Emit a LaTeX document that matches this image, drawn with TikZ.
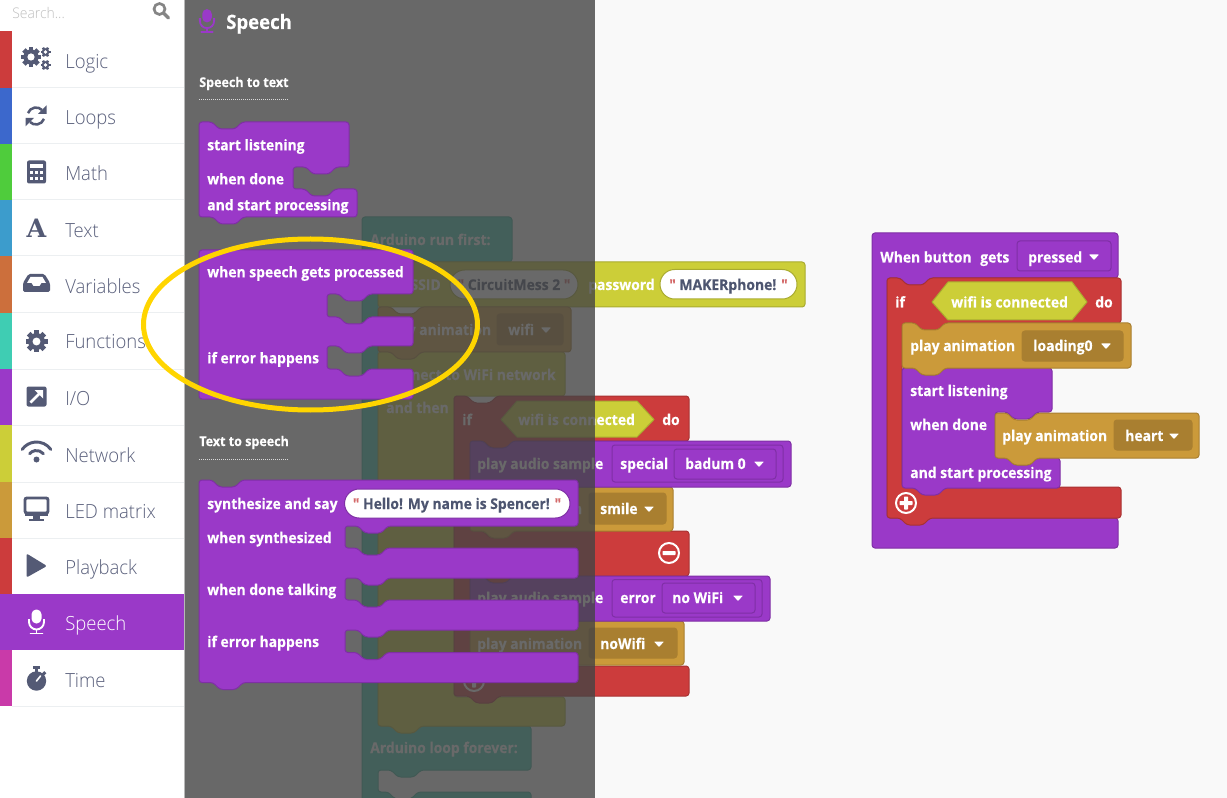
\documentclass[tikz,border=0pt]{standalone}
\usepackage{fontspec}
\setmainfont{Open Sans}
\newfontfamily\lightf[FakeStretch=0.95]{Open Sans Light}
\newfontfamily\serf{DejaVu Serif}
\newfontfamily\bkf[FakeStretch=0.94,FakeBold=0.25]{Open Sans Bold}
\newcommand\bk{\bkf\fontsize{11.1}{13}\selectfont}
\newcommand\sbf{\lightf\fontsize{14.6}{17}\selectfont}
\definecolor{Red}{HTML}{CC3C3C}\definecolor{RedD}{HTML}{A83232}
\definecolor{Blu}{HTML}{3C68CC}
\definecolor{Grn}{HTML}{4FCC3C}
\definecolor{Cya}{HTML}{3C9CCC}
\definecolor{Ora}{HTML}{CC6F3C}
\definecolor{Tea}{HTML}{3FCDB3}\definecolor{TeaD}{HTML}{35AD97}
\definecolor{Pur}{HTML}{9A39C8}\definecolor{PurD}{HTML}{7F2FA5}
\definecolor{Yel}{HTML}{CCCE38}\definecolor{YelD}{HTML}{A9AB2F}
\definecolor{Gol}{HTML}{CB9A3A}\definecolor{GolD}{HTML}{A97F30}\definecolor{GolF}{HTML}{A97F30}
\definecolor{Mag}{HTML}{C93AA9}
\definecolor{Ico}{HTML}{545A75}
\definecolor{Lab}{HTML}{5A607C}
\definecolor{Sep}{HTML}{ECEFF1}
\definecolor{Qt}{HTML}{D46A6A}
\definecolor{Str}{HTML}{4D5570}
\definecolor{Ell}{HTML}{FFD500}
\tikzset{
 blk/.style={line width=.75pt,rounded corners=2.2pt,line join=round},
 tl/.style={blk,fill=Tea,draw=TeaD},
 yl/.style={blk,fill=Yel,draw=YelD},
 gd/.style={blk,fill=Gol,draw=GolD},
 pu/.style={blk,fill=Pur,draw=PurD},
 rd/.style={blk,fill=Red,draw=RedD},
 bt/.style={anchor=base west,inner sep=0pt,text=white,font=\bk},
 sl/.style={anchor=base west,inner sep=0pt,text=Lab,font=\sbf},
 ctr/.style={anchor=base,inner sep=0pt,text=Str,font=\bk},
 hdr/.style={anchor=base west,inner sep=0pt,text=white,font=\bkf\fontsize{10}{11}\selectfont},
 dots/.style={draw=white!85!black,line width=.75pt,dash pattern=on .75pt off .75pt},
 pill/.style={line width=.75pt,fill=white,rounded corners=11pt},
 dd/.style={line width=.75pt,rounded corners=2.2pt},
 sep/.style={draw=Sep,line width=.75pt},
}
\def\Tn{-- ++(7,7) -- ++(16,0) -- ++(7,-7)}
\def\Tab{-- ++(-7,7) -- ++(-16,0) -- ++(-7,-7)}
\newcommand\Car{}
\renewcommand\Car[2]{\fill[white,rounded corners=.5pt] (#1-5,#2-2.5) -- ++(10,0) -- ++(-5,5.5) -- cycle;}
\newcommand\Gear[5]{% x y r teeth-step hole-colour
 \begin{scope}[shift={(#1,#2)}]
 \fill[Ico] (0,0) circle (#3*0.76);
 \foreach \a in {0,#4,...,359}{\draw[Ico,line width=#3*0.36pt] (\a:#3*0.6) -- (\a:#3);}
 \fill[#5] (0,0) circle (#3*0.36);
 \end{scope}}
\newcommand\Mic[4]{% x y scale colour
 \begin{scope}[shift={(#1,#2)},y=.75pt,scale=#3]
 \fill[#4,rounded corners=3.6pt] (-5,-1.5) rectangle (5,12.5);
 \draw[#4,line width=#3*1.4pt] (-7.5,3) -- (-7.5,0) arc (180:360:7.5) -- (7.5,3);
 \draw[#4,line width=#3*1.4pt] (0,-7.5) -- (0,-11);
 \draw[#4,line width=#3*1.4pt,line cap=round] (-6,-11.5) -- (6,-11.5);
 \end{scope}}
\newcommand\PlusMinus[3]{% x y plus?
 \draw[white,line width=1.5pt] (#1,#2) circle (10);
 \fill[white,rounded corners=.5pt] (#1-6.5,#2-2) rectangle (#1+6.5,#2+2);
 \ifnum#3=1 \fill[white,rounded corners=.5pt] (#1-2,#2-6.5) rectangle (#1+2,#2+6.5);\fi}
\begin{document}
\begin{tikzpicture}[x=.75pt,y=-.75pt]
\useasboundingbox (0,0) rectangle (1227,798);
\clip (0,0) rectangle (1227,798);
\fill[white] (0,0) rectangle (1227,798);
\fill[black!2.4] (185,0) rectangle (1227,798);

%% --- workspace, left stack
\draw[tl] (362,217) -- (512,217) -- (512,262) -- (378,262) -- (378,726) -- (531,726) -- (531,770) -- (421,770) \Tab -- (378,770) -- (378,792) -- (388,792) \Tn -- (531,792) -- (531,830) -- (362,830) -- cycle;
\node[bt] (arun) at (370,245) {Arduino run first:};
\node[bt] (aloop) at (370,753) {Arduino loop forever:};

\draw[yl] (378,352) -- (391,352) \Tn -- (565,352) -- (565,396) -- (454,396) -- (454,697) -- (565,697) -- (565,726) -- (421,726) \Tab -- (378,726) -- cycle;
\node[bt] (conn) at (386,380) {connect to WiFi network};
\node[bt] (andthen) at (386,413) {and then};

\draw[yl] (378,262) -- (805,262) -- (805,307) -- (378,307) -- cycle;
\node[bt,anchor=base east] (ssid) at (441,290) {SSID};
\draw[pill,draw=YelD] (450,270) rectangle (578,299);
\node[ctr] (cm) at (514,290) {{\color{Qt}"} CircuitMess 2 {\color{Qt}"}};
\node[bt] (pwd) at (588,290) {password};
\draw[pill,draw=YelD] (660,269.5) rectangle (797,299);
\node[ctr] (mk) at (728.5,290) {{\color{Qt}"} MAKERphone! {\color{Qt}"}};

\draw[gd] (378,307) -- (391,307) \Tn -- (571,307) -- (571,352) -- (421,352) \Tab -- (378,352) -- cycle;
\node[bt] (pa0) at (386,335) {play animation};
\draw[dd,fill=GolF,draw=GolD] (497,314) rectangle (563,345);
\node[bt] (wifid) at (508,335) {wifi};
\Car{546}{330}

\draw[rd] (454,396) -- (467,396) \Tn -- (689,396) -- (689,441) -- (514,441) \Tab -- (470,441) -- (470,531) -- (483,531) \Tn -- (689,531) -- (689,576) -- (514,576) \Tab -- (470,576) -- (470,666) -- (483,666) \Tn -- (689,666) -- (689,696) -- (499,696) \Tab -- (454,696) -- cycle;
\node[bt] (if0) at (462,425) {if};
\draw[line width=.75pt,fill=Yel,draw=YelD,line join=round] (501,419.5) -- (517,401) -- (637,401) -- (654,419.5) -- (637,437) -- (517,437) -- cycle;
\node[bt] (wc0) at (518,425) {wifi is connected};
\node[bt] (do0) at (662,425) {do};
\PlusMinus{669}{553}{0}
\PlusMinus{474}{681}{1}

\draw[gd] (470,621) -- (483,621) \Tn -- (684,621) -- (684,665) -- (514,665) \Tab -- (470,665) -- cycle;
\node[bt] (pa3) at (477,649) {play animation};
\draw[dd,fill=GolF,draw=GolD] (589,628) rectangle (677,658);
\node[bt] (nowifi) at (600,649) {noWifi};
\Car{659}{644}

\draw[pu] (470,576) -- (483,576) \Tn -- (770,576) -- (770,621) -- (514,621) \Tab -- (470,621) -- cycle;
\node[bt] (au2) at (477,603) {play audio sample};
\draw[dd,draw=PurD] (612,579.5) rectangle (762,617);
\node[bt] (err) at (620,603) {error};
\draw[dd,draw=PurD] (662,583) rectangle (755,613);
\node[bt] (nw) at (672,603) {no WiFi};
\Car{738}{598}

\draw[gd] (470,487) -- (483,487) \Tn -- (673,487) -- (673,531) -- (514,531) \Tab -- (470,531) -- cycle;
\node[bt] (pa2) at (477,514) {play animation};
\draw[dd,fill=GolF,draw=GolD] (589,493) rectangle (666,524);
\node[bt] (smile) at (600,514) {smile};
\Car{649}{509}

\draw[pu] (470,441) -- (483,441) \Tn -- (791,441) -- (791,487) -- (514,487) \Tab -- (470,487) -- cycle;
\node[bt] (au1) at (477,469) {play audio sample};
\draw[dd,draw=PurD] (612,445) rectangle (783,482);
\node[bt] (spec) at (620,469) {special};
\draw[dd,draw=PurD] (674,449) rectangle (776,479);
\node[bt] (bad) at (685,469) {badum 0};
\Car{759}{464}

%% --- workspace, right stack
\draw[pu] (872,233) -- (1118,233) -- (1118,278) -- (930,278) \Tab -- (887,278) -- (887,518) -- (1118,518) -- (1118,548) -- (872,548) -- cycle;
\node[bt] (wb) at (880,262.5) {When button};
\node[bt] (gets) at (980,262.5) {gets};
\draw[dd,draw=PurD] (1017,241) rectangle (1111,271);
\node[bt] (pressed) at (1028,262.5) {pressed};
\Car{1094}{257}

\draw[rd] (887,278) -- (900,278) \Tn -- (1121,278) -- (1121,323) -- (945,323) \Tab -- (902,323) -- (902,487) -- (915,487) \Tn -- (1121,487) -- (1121,518) -- (930,518) \Tab -- (887,518) -- cycle;
\node[bt] (if1) at (895,307.5) {if};
\draw[line width=.75pt,fill=Yel,draw=YelD,line join=round] (932,302) -- (948,282) -- (1072,282) -- (1087,302) -- (1072,320) -- (948,320) -- cycle;
\node[bt] (wc1) at (951,307.5) {wifi is connected};
\node[bt] (do1) at (1095,307.5) {do};
\PlusMinus{906}{503}{1}

\draw[pu] (902,368) -- (915,368) \Tn -- (1052,368) -- (1052,412) -- (1037,412) \Tab -- (995,412) -- (995,458) -- (1007,458) \Tn -- (1060,458) -- (1060,488) -- (945,488) \Tab -- (902,488) -- cycle;
\node[bt] (sl1) at (910,396) {start listening};
\node[bt] (wd1) at (910,430) {when done};
\node[bt] (sp1) at (910,478) {and start processing};

\draw[gd] (995,413) -- (1007,413) \Tn -- (1199,413) -- (1199,458) -- (1037,458) \Tab -- (995,458) -- cycle;
\node[bt] (pah) at (1002,441) {play animation};
\draw[dd,fill=GolF,draw=GolD] (1114,420) rectangle (1192,450);
\node[bt] (heart) at (1125,441) {heart};
\Car{1174}{436}

\draw[gd] (902,323) -- (915,323) \Tn -- (1131,323) -- (1131,368) -- (945,368) \Tab -- (902,368) -- cycle;
\node[bt] (pal) at (910,351) {play animation};
\draw[dd,fill=GolF,draw=GolD] (1022,331) rectangle (1123,361);
\node[bt] (load) at (1033,351) {loading0};
\Car{1106}{346}

%% --- flyout overlay
\fill[black!73.3,opacity=.8] (185,0) rectangle (595,798);

\Mic{207}{21}{.95}{Pur}
\node[hdr,font=\bkf\fontsize{14.8}{17}\selectfont] (hd) at (226,29) {Speech};
\node[hdr] (s2t) at (199,87) {Speech to text};
\draw[dots] (199,100) -- (288,100);
\node[hdr] (t2s) at (199,446) {Text to speech};
\draw[dots] (199,459) -- (288,459);

\draw[pu] (199,122) -- (212,122) \Tn -- (349,122) -- (349,167) -- (336,167) \Tab -- (293,167) -- (293,189) -- (305,189) \Tn -- (357,189) -- (357,217) -- (243,217) \Tab -- (199,217) -- cycle;
\node[bt] (sl0) at (207,150.3) {start listening};
\node[bt] (wd0) at (207,184.3) {when done};
\node[bt] (sp0) at (207,210.3) {and start processing};

\draw[pu] (199,250) -- (413,250) -- (413,294) -- (369,294) \Tab -- (327,294) -- (327,317) -- (339,317) \Tn -- (413,317) -- (413,346) -- (369,346) \Tab -- (327,346) -- (327,369) -- (339,369) \Tn -- (413,369) -- (413,399) -- (199,399) -- cycle;
\node[bt] (wsp) at (207,277.3) {when speech gets processed};
\node[bt] (ie0) at (207,363.3) {if error happens};

\draw[pu] (199,480) -- (212,480) \Tn -- (578,480) -- (578,526) -- (388,526) \Tab -- (345,526) -- (345,548) -- (357,548) \Tn -- (578,548) -- (578,578) -- (388,578) \Tab -- (345,578) -- (345,600) -- (357,600) \Tn -- (578,600) -- (578,630) -- (388,630) \Tab -- (345,630) -- (345,652.5) -- (357,652.5) \Tn -- (578,652.5) -- (578,682.5) -- (243,682.5) \Tab -- (199,682.5) -- cycle;
\node[bt] (syn) at (207,509) {synthesize and say};
\draw[pill,draw=PurD] (344.5,489) rectangle (570,518);
\node[ctr] (hello) at (457,509) {{\color{Qt}"} Hello! My name is Spencer! {\color{Qt}"}};
\node[bt] (ws) at (207,543) {when synthesized};
\node[bt] (wdt) at (207,595) {when done talking};
\node[bt] (ie1) at (207,647) {if error happens};

%% --- sidebar
\fill[white] (0,0) rectangle (184,798);
\draw[black!28,line width=.75pt] (184.5,0) -- (184.5,798);
\node[anchor=base west,inner sep=0pt,text=black!25,font=\lightf\fontsize{11}{12}\selectfont] (srch) at (12,18.5) {Search...};
\draw[black!48,line width=2pt] (159.5,9) circle (5.5);
\draw[black!48,line width=2.4pt,line cap=round] (163.5,13) -- (168.5,18);

\foreach \ya/\yb/\c in {31/88/Red,88/144/Blu,144/200/Grn,200/256/Cya,256/313/Ora,313/369/Tea,369/425/Pur,425/482/Yel,482/538/Gol,538/594/Red,650/706/Mag}
 {\fill[\c] (0,\ya) rectangle (12,\yb);
  \draw[sep] (12,\yb) -- (184,\yb);}
\fill[Pur] (0,594) rectangle (184,650);

\node[sl] (n1) at (65,69) {Logic};
\node[sl] (n2) at (65,125) {Loops};
\node[sl] (n3) at (65,181) {Math};
\node[sl] (n4) at (65,238) {Text};
\node[sl] (n5) at (65,293.5) {Variables};
\node[sl] (n6) at (65,349) {Functions};
\node[sl] (n7) at (65,405) {I/O};
\node[sl] (n8) at (65,462) {Network};
\node[sl] (n9) at (65,518) {LED matrix};
\node[sl] (n10) at (65,574) {Playback};
\node[sl,text=white] (n11) at (65,630) {Speech};
\node[sl] (n12) at (65,687) {Time};

% Logic
\Gear{31}{57}{10}{45}{white}
\Gear{45.5}{52}{5}{60}{white}
\Gear{45.5}{65}{5}{60}{white}
% Loops
\begin{scope}[shift={(36,116)},y=.75pt]
 \foreach \r in {0,180}{\begin{scope}[rotate=\r]
  \draw[Ico,line width=1.9pt] (160:8.5) arc (160:45:8.5);
  \fill[Ico] (10.5,10.5) -- (10.5,2) -- (2,2) -- cycle;
 \end{scope}}
\end{scope}
% Math
\begin{scope}[shift={(36.5,172)},y=.75pt]
 \fill[Ico,rounded corners=1.5pt] (-9.5,-11.5) rectangle (9.5,11.5);
 \fill[white] (-6.5,3.5) rectangle (6.5,8);
 \foreach \xx in {-6.5,-1.5,3.5}\foreach \yy in {-8,-2.5}{\fill[white] (\xx,\yy) rectangle (\xx+3,\yy+3);}
\end{scope}
% Text
\node[inner sep=0pt,text=Ico,font=\serf\bfseries\fontsize{19}{20}\selectfont] (ia) at (36.5,228.5) {A};
% Variables
\begin{scope}[shift={(36.5,283)},y=.75pt]
 \fill[Ico,rounded corners=1.2pt] (-8,9) -- (8,9) -- (13.5,0) -- (13.5,-9) -- (-13.5,-9) -- (-13.5,0) -- cycle;
 \fill[white] (-6,6) -- (6,6) -- (9.5,0) -- (5,0) -- (3,-3) -- (-3,-3) -- (-5,0) -- (-9.5,0) -- cycle;
\end{scope}
% Functions
\Gear{36.5}{341.5}{11}{45}{white}
% I/O
\begin{scope}[shift={(36.5,396.5)},y=.75pt]
 \fill[Ico,rounded corners=1.5pt] (-10,-10) rectangle (10,10);
 \draw[white,line width=2pt] (-6,-6) -- (3,3);
 \fill[white] (6.5,6.5) -- (-2,6.5) -- (6.5,-2) -- cycle;
\end{scope}
% Network
\begin{scope}[shift={(36.5,459.5)},y=.75pt]
 \fill[Ico] (0,0) circle (3);
 \draw[Ico,line width=2.2pt,line cap=round] (40:9) arc (40:140:9);
 \draw[Ico,line width=2.2pt,line cap=round] (35:17.5) arc (35:145:17.5);
\end{scope}
% LED
\begin{scope}[shift={(36.5,508)},y=.75pt]
 \draw[Ico,line width=2.2pt,rounded corners=1.5pt] (-11.5,-5) rectangle (11.5,10);
 \fill[Ico] (-11.5,-8) rectangle (11.5,-3.5);
 \fill[Ico] (-3.5,-11) rectangle (3.5,-7);
 \fill[Ico] (-7.5,-12.5) rectangle (7.5,-10.5);
\end{scope}
% Playback
\fill[Ico,rounded corners=1.5pt] (26.5,553.5) -- (47,566) -- (26.5,577.5) -- cycle;
% Speech
\Mic{36.5}{622}{1}{white}
% Time
\begin{scope}[shift={(36.5,681)},y=.75pt]
 \fill[Ico] (0,0) circle (9.7);
 \fill[Ico] (-3.5,12) rectangle (3.5,15);
 \fill[Ico] (-1.5,8) rectangle (1.5,12);
 \fill[Ico,rotate=-45] (-1.5,9) rectangle (1.5,12.5);
 \draw[white,line width=1.2pt,line cap=round] (0,0) -- (4,5);
\end{scope}

%% --- highlight
\draw[Ell,line width=3.75pt] (310.5,324.5) ellipse (167 and 85.5);
\end{tikzpicture}
\end{document}
